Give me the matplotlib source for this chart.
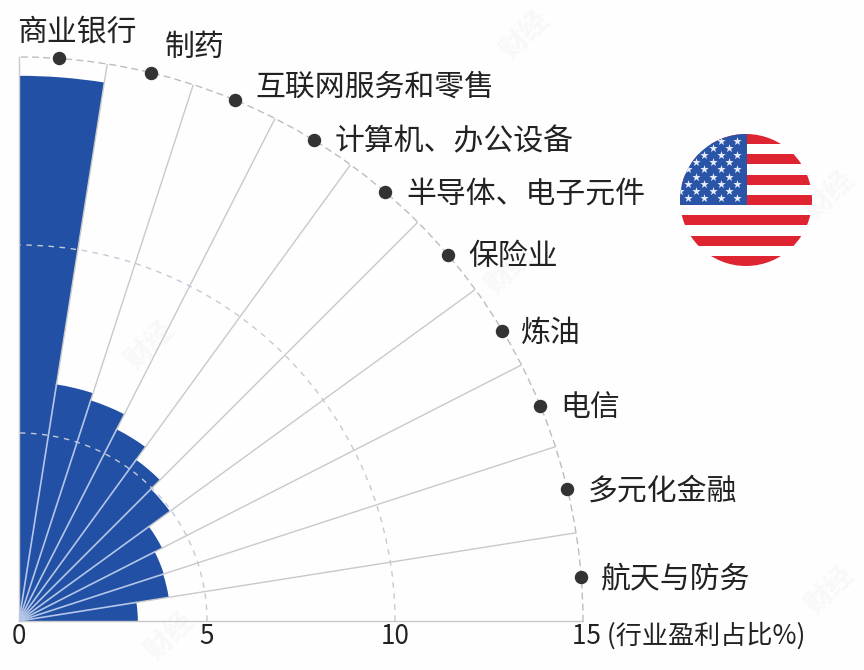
import numpy as np
import matplotlib
matplotlib.use("Agg")
import matplotlib.pyplot as plt
from matplotlib.patches import Circle, Rectangle

plt.rcParams["font.family"] = ["Noto Sans CJK SC", "DejaVu Sans"]

# data
industries = ["商业银行", "制药", "互联网服务和零售", "计算机、办公设备", "半导体、电子元件",
              "保险业", "炼油", "电信", "多元化金融", "航天与防务"]
profit_share = [14.5, 6.37, 6.17, 5.72, 5.3, 4.96, 4.27, 4.05, 4.03, 3.16]
dot_angle = [85.9, 76.5, 67.5, 58.5, 49.5, 40.5, 31, 22.4, 13.5, 4.5]
r_ticks = [0, 5, 10, 15]
r_ticklabels = ["0", "5", "10", "15 (行业盈利占比%)"]

# label offset from its dot, pixels
label_dx = [-42, 14, 21, 21, 21, 20, 19, 20, 20, 20]
label_dy = [27, 25, 13, -2, -2, -2, -3, -2, -2, -2]

BLUE = "#2150a5"
TEXT = "#222222"
W, H = 864, 670
fig = plt.figure(figsize=(W / 100, H / 100), dpi=100, facecolor="#fefefe")


def box(left, top, w, h):
    return [left / W, (H - top - h) / H, w / W, h / H]


# faint watermarks
for x, y in [(150, 345), (510, 270), (830, 195), (830, 590), (170, 636), (525, 35)]:
    fig.text(x / W, 1 - y / H, "财经", fontsize=20, color="#f8f8f8", rotation=45,
             ha="center", va="center", weight="bold", zorder=0)

ax = fig.add_axes(box(19, 57, 564, 564), projection="polar", zorder=1)
ax.set_facecolor("none")
ax.set_thetamin(0)
ax.set_thetamax(90)
ax.set_rlim(0, 15)
ax.set_xticks([])
ax.set_yticks(r_ticks[1:-1])
ax.set_yticklabels([])
ax.tick_params(length=0)
ax.set_axisbelow(False)
ax.grid(axis="y", color="#c4cad6", lw=1, ls=(0, (4, 4)))

step = 90 / len(industries)
mids = np.deg2rad(90 - step * (np.arange(len(industries)) + 0.5))
ax.bar(mids, profit_share, width=np.deg2rad(step), color=BLUE, lw=0, zorder=2)

# spokes: pale inside the blue, grey outside
for i in range(1, len(industries)):
    th = np.deg2rad(90 - step * i)
    r_in = min(profit_share[i - 1], profit_share[i])
    ax.plot([th, th], [0, r_in], color="#b4c6e8", lw=1.2, zorder=3)
    ax.plot([th, th], [r_in, 15], color="#c9c9c9", lw=1, zorder=3)

ax.spines["polar"].set_color("#bdbdbd")
ax.spines["polar"].set_linewidth(1)
ax.spines["polar"].set_linestyle((0, (4, 4)))
ax.spines["start"].set_color("#c9c9c9")
ax.spines["end"].set_color("#c9c9c9")
ax.spines["start"].set_linewidth(1)
ax.spines["end"].set_linewidth(1)
ax.spines["inner"].set_visible(False)

dots = np.deg2rad(dot_angle)
ax.scatter(dots, [15] * len(dots), s=75, color="#333333", clip_on=False, zorder=5)
for name, th, dx, dy in zip(industries, dots, label_dx, label_dy):
    ax.annotate(name, xy=(th, 15), xytext=(dx, dy), textcoords="offset pixels",
                ha="left", va="center", fontsize=21.5, color=TEXT, annotation_clip=False)

for r, lab in zip(r_ticks, r_ticklabels):
    ha = "left" if r == 15 else "center"
    dx = -11 if r == 15 else 0
    ax.annotate(lab, xy=(0, r), xytext=(dx, -15), textcoords="offset pixels",
                ha=ha, va="center", fontsize=18.8, color=TEXT, annotation_clip=False)

# flag
flag = fig.add_axes(box(680, 134, 132, 132), zorder=1)
flag.set_xlim(-1, 1)
flag.set_ylim(-1, 1)
flag.axis("off")
clip = Circle((0, 0), 1, transform=flag.transData)
stripe = 2 / 13
for k in range(0, 13, 2):
    r = Rectangle((-1, 1 - stripe * (k + 1)), 2, stripe, color="#dd2430", lw=0)
    flag.add_patch(r)
    r.set_clip_path(clip)
canton = Rectangle((-1, 1 - 7 * stripe), 1.02, 7 * stripe, color="#2a55a6", lw=0)
flag.add_patch(canton)
canton.set_clip_path(clip)
sx, sy = [], []
for row in range(9):
    for col in range(5):
        sx.append(-0.13 - 0.25 * col - (0.125 if row % 2 else 0))
        sy.append(0.9 - 0.109 * row)
stars = flag.scatter(sx, sy, marker="*", s=40, color="#e8eefa", lw=0, zorder=3)
stars.set_clip_path(clip)

fig.savefig("out.png", dpi=100, facecolor=fig.get_facecolor())
